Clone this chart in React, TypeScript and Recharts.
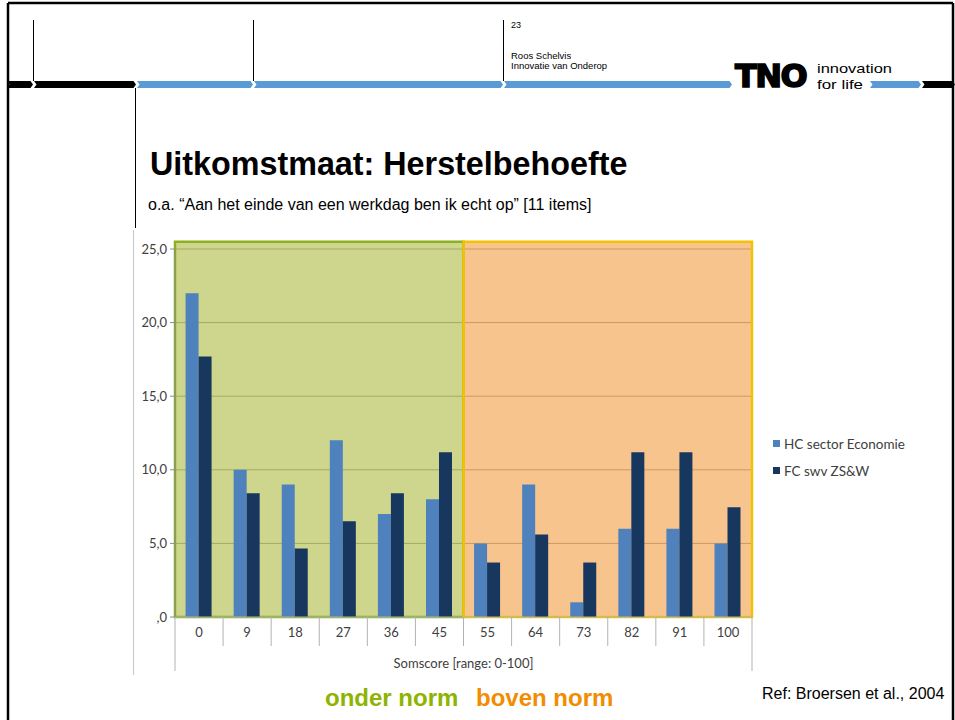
import React from 'react';
import {
  BarChart,
  Bar,
  XAxis,
  YAxis,
  CartesianGrid,
  ReferenceArea,
  Legend
} from 'recharts';

// somscore categories (x axis)
const categories = ['0', '9', '18', '27', '36', '45', '55', '64', '73', '82', '91', '100'];
// percentages per category
const hcSectorEconomie = [22, 10, 9, 12, 7, 8, 5, 9, 1, 6, 6, 5];
const fcSwvZSW = [17.7, 8.4, 4.65, 6.5, 8.4, 11.2, 3.7, 5.6, 3.7, 11.2, 11.2, 7.45];
const seriesNames = ['HC sector Economie', 'FC swv ZS&W'];
const yTicks = [0, 5, 10, 15, 20, 25];
// norm ranges (first / last category of each box)
const onderNorm = ['0', '45'];
const bovenNorm = ['55', '100'];
const boxTop = 25.5;

const data = categories.map((c, i) => ({
  cat: c,
  hc: hcSectorEconomie[i],
  fc: fcSwvZSW[i]
}));

const HC_COLOR = '#4f81bd';
const FC_COLOR = '#17375e';
const CHART_FONT = 'Lato, "Open Sans", sans-serif';
const SLIDE_FONT = '"Liberation Sans", Arial, sans-serif';
const BLUE = '#5b9bd5';

const fmtY = (v: number) => (v === 0 ? ',0' : v.toFixed(1).replace('.', ','));

const XTick = (props: any) => {
  const { x, y, payload, index } = props;
  const off = payload?.offset || 24;
  const last = index === categories.length - 1;
  return (
    <g>
      <line x1={x - off} x2={x - off} y1={y} y2={index === 0 ? y + 54 : y + 29} stroke="#b3b3b3" />
      {last && <line x1={x + off} x2={x + off} y1={y} y2={y + 54} stroke="#b3b3b3" />}
      <text x={x} y={y + 20} textAnchor="middle" fontSize={13} fill="#404040" fontFamily={CHART_FONT}>
        {payload.value}
      </text>
    </g>
  );
};

const LegendContent = (props: any) => {
  const items = [...(props.payload || [])].sort(
    (a: any, b: any) => seriesNames.indexOf(a.value) - seriesNames.indexOf(b.value)
  );
  return (
    <div style={{ fontFamily: CHART_FONT, fontSize: 13.5, color: '#404040' }}>
      {items.map((it: any, i: number) => (
        <div key={i} style={{ display: 'flex', alignItems: 'center', height: 27 }}>
          <span style={{ width: 7, height: 7, background: it.color, marginRight: 4, display: 'inline-block' }} />
          <span>{it.value}</span>
        </div>
      ))}
    </div>
  );
};

const bandPiece = (xa: number, xb: number, color: string, key: string) => {
  const t = 81;
  const b = 88;
  const m = (t + b) / 2;
  const pts = `${xa},${t} ${xb - 2.5},${t} ${xb},${m} ${xb - 2.5},${b} ${xa},${b} ${xa + 2.5},${m}`;
  return <polygon key={key} points={pts} fill={color} />;
};

const Slide = () => (
  <svg width={955} height={720} style={{ position: 'absolute', left: 0, top: 0 }}>
    <rect x={0} y={0} width={955} height={720} fill="#fff" />
    {/* frame */}
    <line x1={8} x2={8} y1={3} y2={720} stroke="#000" strokeWidth={2.5} />
    <line x1={8} x2={953} y1={3} y2={3} stroke="#000" strokeWidth={2.5} />
    <line x1={953} x2={953} y1={3} y2={720} stroke="#000" strokeWidth={2.5} />
    {/* header rules */}
    <line x1={33.5} x2={33.5} y1={20} y2={81} stroke="#000" strokeWidth={1} />
    <line x1={253.5} x2={253.5} y1={20} y2={81} stroke="#000" strokeWidth={1} />
    <line x1={503.5} x2={503.5} y1={20} y2={81} stroke="#000" strokeWidth={1} />
    <line x1={135.5} x2={135.5} y1={88} y2={228} stroke="#000" strokeWidth={1} />
    {bandPiece(7, 33, '#000', 'a')}
    {bandPiece(34, 136, '#000', 'b')}
    {bandPiece(137, 253, BLUE, 'c')}
    {bandPiece(254, 503, BLUE, 'd')}
    {bandPiece(504, 732, BLUE, 'e')}
    {bandPiece(870, 921, BLUE, 'f')}
    {bandPiece(922, 955, '#000', 'g')}
    <text x={511} y={28} fontSize={9} fontFamily={SLIDE_FONT} fill="#000">23</text>
    <text x={511} y={59} fontSize={9.5} fontFamily={SLIDE_FONT} fill="#000">
      <tspan x={511} y={59}>Roos Schelvis</tspan>
      <tspan x={511} y={69}>Innovatie van Onderop</tspan>
    </text>
    {/* logo */}
    <text
      x={735}
      y={87}
      fontSize={32}
      fontWeight="bold"
      fontFamily='"DejaVu Sans", sans-serif'
      fill="#000"
      stroke="#000"
      strokeWidth={1.6}
      letterSpacing={-1.5}
    >
      TNO
    </text>
    <text x={817} y={72.5} fontSize={13.5} fontFamily={SLIDE_FONT} fill="#000" textLength={75} lengthAdjust="spacingAndGlyphs">innovation</text>
    <text x={817} y={88.5} fontSize={13.5} fontFamily={SLIDE_FONT} fill="#000" textLength={46} lengthAdjust="spacingAndGlyphs">for life</text>
    {/* titles */}
    <text x={150} y={175} fontSize={32.3} fontWeight="bold" fontFamily={SLIDE_FONT} fill="#000">Uitkomstmaat: Herstelbehoefte</text>
    <text x={148} y={210} fontSize={16} fontFamily={SLIDE_FONT} fill="#000">o.a. “Aan het einde van een werkdag ben ik echt op” [11 items]</text>
    {/* chart picture border */}
    <line x1={133.5} x2={133.5} y1={230} y2={675} stroke="#c8c8c8" strokeWidth={1} />
    <text x={325} y={706} fontSize={24} fontWeight="bold" fontFamily={SLIDE_FONT} fill="#8db400">onder norm</text>
    <text x={476} y={706} fontSize={24} fontWeight="bold" fontFamily={SLIDE_FONT} fill="#f28c00">boven norm</text>
    <text x={762} y={699} fontSize={16} fontFamily={SLIDE_FONT} fill="#000">Ref: Broersen et al., 2004</text>
  </svg>
);

export default function App() {
  return (
    <div style={{ position: 'absolute', left: 0, top: 0, width: 955, height: 720, background: '#fff' }}>
      <Slide />
      <div style={{ position: 'absolute', left: 130, top: 230 }}>
        <BarChart
          width={790}
          height={450}
          data={data}
          margin={{ top: 19, right: 168, bottom: 8, left: 0 }}
          barCategoryGap="22%"
          barGap={0}
        >
          <CartesianGrid vertical={false} stroke="#6e6e6e" />
          <ReferenceArea
            x1={onderNorm[0]}
            x2={onderNorm[1]}
            y1={0}
            y2={boxTop}
            ifOverflow="visible"
            fill="rgb(184,196,91)"
            fillOpacity={0.7}
            stroke="#8cb01e"
            strokeWidth={2.5}
          />
          <ReferenceArea
            x1={bovenNorm[0]}
            x2={bovenNorm[1]}
            y1={0}
            y2={boxTop}
            ifOverflow="visible"
            fill="rgb(244,171,94)"
            fillOpacity={0.7}
            stroke="#f2c200"
            strokeWidth={2.5}
          />
          <XAxis
            dataKey="cat"
            height={55}
            tickLine={false}
            tickSize={0}
            tickMargin={0}
            axisLine={{ stroke: '#b3b3b3' }}
            tick={<XTick />}
            interval={0}
            label={{
              value: 'Somscore [range: 0-100]',
              position: 'insideBottom',
              offset: 4,
              fontSize: 13,
              fill: '#404040',
              fontFamily: CHART_FONT
            }}
          />
          <YAxis
            width={45}
            domain={[0, 25]}
            ticks={yTicks}
            tickFormatter={fmtY}
            tickSize={5}
            tickMargin={3}
            tickLine={{ stroke: '#8c8c8c' }}
            axisLine={{ stroke: '#8c8c8c' }}
            tick={{ fontSize: 13, fill: '#404040', fontFamily: CHART_FONT }}
          />
          <Legend
            layout="vertical"
            align="center"
            verticalAlign="middle"
            content={<LegendContent />}
            wrapperStyle={{ left: 643, top: 200, width: 160 }}
          />
          <Bar dataKey="hc" name={seriesNames[0]} fill={HC_COLOR} isAnimationActive={false} />
          <Bar dataKey="fc" name={seriesNames[1]} fill={FC_COLOR} isAnimationActive={false} />
        </BarChart>
      </div>
    </div>
  );
}
